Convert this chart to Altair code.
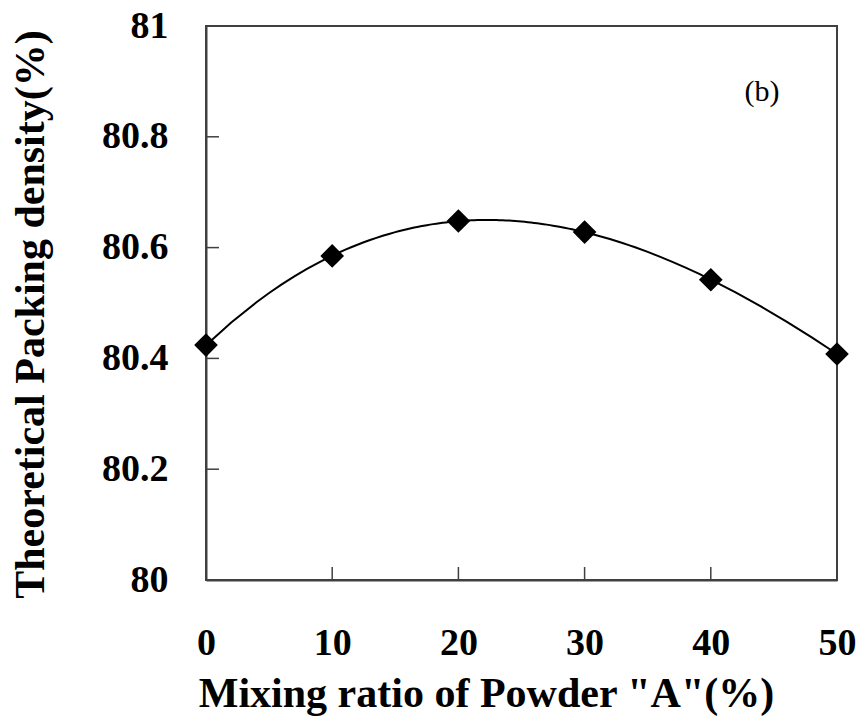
import altair as alt
import pandas as pd

ratio = [0, 10, 20, 30, 40, 50]
density = [80.424, 80.585, 80.648, 80.628, 80.542, 80.408]
x_ticks = [0, 10, 20, 30, 40, 50]
y_ticks = [80.0, 80.2, 80.4, 80.6, 80.8, 81.0]
label_text = ["(b)"]

W, H = 631, 554
FONT = "Liberation Serif"

df = pd.DataFrame({"ratio": ratio, "density": density})
xt = pd.DataFrame({"t": x_ticks})
yt = pd.DataFrame({"t": y_ticks})

xs = alt.Scale(domain=[0, 50], nice=False, zero=False)
ys = alt.Scale(domain=[80, 81], nice=False, zero=False)

x_axis = alt.Axis(values=x_ticks, title='Mixing ratio of Powder "A"(%)', tickSize=0,
                  labelPadding=44, labelFontSize=38, labelFont=FONT, labelFontWeight="bold",
                  labelColor="black", titleFont=FONT, titleFontSize=42, titleFontWeight="bold",
                  titleColor="black", titlePadding=11, grid=False, domainColor="#404040",
                  domainWidth=2, labelFlush=False, titleX=280)
y_axis = alt.Axis(values=y_ticks, title="Theoretical Packing density(%)", tickSize=0,
                  labelPadding=38, labelFontSize=38, labelFont=FONT, labelFontWeight="bold",
                  labelColor="black", titleFont=FONT, titleFontSize=42, titleFontWeight="bold",
                  titleColor="black", grid=False, domainColor="#404040",
                  domainWidth=2, labelFlush=False, titleY=288, titleX=-163,
                  titleBaseline="alphabetic",
                  labelExpr="datum.value == 80 ? '80' : datum.value == 81 ? '81' : format(datum.value, '.1f')")

base = alt.Chart(df)

curve = base.transform_regression(
    "ratio", "density", method="poly", order=3, extent=[0, 50]
).mark_line(color="black", strokeWidth=2).encode(
    x=alt.X("ratio:Q", scale=xs, axis=x_axis),
    y=alt.Y("density:Q", scale=ys, axis=y_axis),
)

points = base.mark_point(shape="diamond", filled=True, color="black", size=560, opacity=1).encode(
    x=alt.X("ratio:Q", scale=xs, axis=x_axis),
    y=alt.Y("density:Q", scale=ys, axis=y_axis),
)

xtick_layer = alt.Chart(xt).transform_filter("datum.t > 0 && datum.t < 50").mark_rule(
    color="#404040", strokeWidth=1.5).encode(
    x=alt.X("t:Q", scale=xs, axis=x_axis), y=alt.value(H), y2=alt.value(H - 13))
ytick_layer = alt.Chart(yt).transform_filter("datum.t > 80 && datum.t < 81").mark_rule(
    color="#404040", strokeWidth=1.5).encode(
    y=alt.Y("t:Q", scale=ys, axis=y_axis), x=alt.value(0), x2=alt.value(13))

label = alt.Chart(pd.DataFrame({"txt": label_text})).mark_text(
    font=FONT, fontSize=30, color="black", align="center", baseline="middle").encode(
    text="txt:N", x=alt.value(556), y=alt.value(66))

chart = alt.layer(curve, xtick_layer, ytick_layer, points, label).properties(
    width=W, height=H,
    autosize=alt.AutoSizeParams(type="none"),
    padding={"left": 206, "top": 26, "right": 22, "bottom": 137},
    background="white",
).configure_view(stroke="#404040", strokeWidth=2)

chart.save("out.html", embed_options={"renderer": "svg", "actions": False})
